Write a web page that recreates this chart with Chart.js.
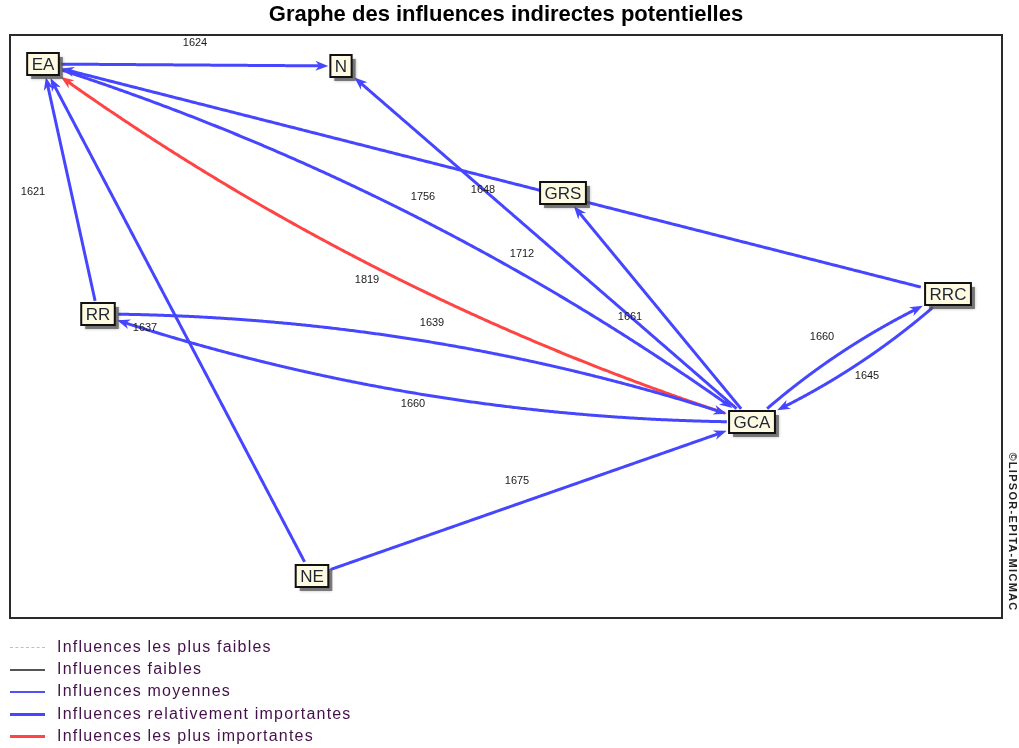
<!DOCTYPE html>
<html><head><meta charset="utf-8">
<script src="https://cdn.jsdelivr.net/npm/chart.js@4/dist/chart.umd.min.js"></script>
<style>
html,body{margin:0;padding:0;background:#fff;}
#wrap{position:relative;width:1019px;height:748px;}
#legend{position:absolute;left:0;top:636px;width:500px;height:112px;font-family:'Liberation Sans',Arial,sans-serif;font-size:16px;color:#44104a;letter-spacing:1.2px;}
.row{position:absolute;left:0;width:500px;height:22px;white-space:nowrap;}
.sw{position:absolute;left:10px;width:35px;}
.tx{position:absolute;left:57px;top:2px;line-height:18px;}
</style></head>
<body><div id="wrap"><canvas id="c" width="1019" height="748"></canvas><div id="legend"></div></div>
<script>
// ---- data ----
const nodeNames = ['EA','N','GRS','RRC','RR','GCA','NE'];
const nodeX = [43, 341, 563, 948, 98, 752, 312];
const nodeY = [64, 66, 193, 294, 314, 422, 576];

const edgeFrom  = ['EA','RR','NE','GCA','EA','RRC','GCA','GCA','RR','GCA','GCA','RRC','NE'];
const edgeTo    = ['N','EA','EA','EA','GCA','EA','N','GRS','GCA','RR','RRC','GCA','GCA'];
const edgeValue = [1624,1621,1637,1819,1756,1648,1712,1661,1639,1660,1660,1645,1675];
const edgeLevel = [4,4,4,5,4,4,4,4,4,4,4,4,4]; // 5 = most important (red), 4 = relatively important
const labelX = [195, 33, 145, 367, 423, 483, 522, 630, 432, 413, 822, 867, 517];
const labelY = [43, 192, 328, 280, 197, 190, 254, 317, 323, 404, 337, 376, 481];

const legendLabels = ['Influences les plus faibles','Influences faibles','Influences moyennes','Influences relativement importantes','Influences les plus importantes'];

const titleText = 'Graphe des influences indirectes potentielles';
const copyrightText = '\u00A9LIPSOR-EPITA-MICMAC';

// ---- styles ----
const levelColor = {1:'#c8c8c8',2:'#555555',3:'#4a4aff',4:'#4646ff',5:'#ff4444'};
const levelWidth = {1:1,2:1,3:1.5,4:3,5:3};
const legendSwatch = [
  {h:0, css:'border-top:1px dashed #c0c0c0; top:11px; height:0;'},
  {h:1, css:'background:#555; top:11px; height:1.5px;'},
  {h:1, css:'background:#5050ff; top:11px; height:1.5px;'},
  {h:3, css:'background:#4646ff; top:10px; height:3px;'},
  {h:3, css:'background:#ff4444; top:10px; height:3px;'}
];
const legendTops = [0, 22, 44, 67, 89];

const legendDiv = document.getElementById('legend');
legendLabels.forEach((t,i)=>{
  const r = document.createElement('div'); r.className='row'; r.style.top = legendTops[i]+'px';
  const s = document.createElement('div'); s.className='sw'; s.style.cssText = legendSwatch[i].css;
  const tx = document.createElement('div'); tx.className='tx'; tx.textContent = t;
  r.appendChild(s); r.appendChild(tx); legendDiv.appendChild(r);
});

const NODE_FONT = '17px "Liberation Sans", Arial, sans-serif';
const LABEL_FONT = '11px "Liberation Sans", Arial, sans-serif';

function boxOf(ctx, i, px, py){
  ctx.font = NODE_FONT;
  const w = ctx.measureText(nodeNames[i]).width + 9;
  const h = 22;
  return {x0:px-w/2, x1:px+w/2, y0:py-h/2, y1:py+h/2, w, h};
}
function inBox(b, x, y, m){ return x>=b.x0-m && x<=b.x1+m && y>=b.y0-m && y<=b.y1+m; }

const graphPlugin = {
  id:'graph',
  beforeDatasetsDraw(chart){
    const ctx = chart.ctx, xs = chart.scales.x, ys = chart.scales.y, ca = chart.chartArea;
    // frame
    ctx.save();
    ctx.strokeStyle = '#2a2a2a'; ctx.lineWidth = 2;
    ctx.strokeRect(ca.left, ca.top, ca.right-ca.left, ca.bottom-ca.top);
    ctx.restore();

    const P = nodeNames.map((n,i)=>({x:xs.getPixelForValue(nodeX[i]), y:ys.getPixelForValue(nodeY[i])}));
    const B = nodeNames.map((n,i)=>boxOf(ctx,i,P[i].x,P[i].y));

    edgeFrom.forEach((f,k)=>{
      const a = nodeNames.indexOf(f), b = nodeNames.indexOf(edgeTo[k]);
      const p0 = P[a], p2 = P[b];
      const dx = p2.x-p0.x, dy = p2.y-p0.y, len = Math.hypot(dx,dy);
      let paired = false;
      edgeFrom.forEach((g,j)=>{ if (g===edgeTo[k] && edgeTo[j]===f) paired = true; });
      const bend = paired ? -0.08*len : 0;
      const c = {x:(p0.x+p2.x)/2 + (-dy/len)*bend, y:(p0.y+p2.y)/2 + (dx/len)*bend};
      const N = 400, pts = [];
      for (let i=0;i<=N;i++){
        const t=i/N, u=1-t;
        pts.push({x:u*u*p0.x+2*u*t*c.x+t*t*p2.x, y:u*u*p0.y+2*u*t*c.y+t*t*p2.y});
      }
      let i0 = 0; while (i0<N && inBox(B[a],pts[i0].x,pts[i0].y,2)) i0++;
      let i1 = N; while (i1>0 && inBox(B[b],pts[i1].x,pts[i1].y,2)) i1--;
      const col = levelColor[edgeLevel[k]], lw = levelWidth[edgeLevel[k]];
      const tip = pts[i1];
      let j = i1; while (j>i0 && Math.hypot(tip.x-pts[j].x, tip.y-pts[j].y) < 12) j--;
      const ux = (tip.x-pts[j].x), uy = (tip.y-pts[j].y), ul = Math.hypot(ux,uy)||1;
      const ex = ux/ul, ey = uy/ul;
      const AL = 13, AW = 5;
      ctx.save();
      ctx.strokeStyle = col; ctx.lineWidth = lw; ctx.lineJoin='round';
      ctx.beginPath();
      ctx.moveTo(pts[i0].x, pts[i0].y);
      for (let i=i0+1;i<=j;i++) ctx.lineTo(pts[i].x, pts[i].y);
      ctx.lineTo(tip.x-ex*AL*0.6, tip.y-ey*AL*0.6);
      ctx.stroke();
      ctx.fillStyle = col;
      ctx.beginPath();
      ctx.moveTo(tip.x, tip.y);
      ctx.lineTo(tip.x-ex*AL - ey*AW, tip.y-ey*AL + ex*AW);
      ctx.lineTo(tip.x-ex*AL*0.7, tip.y-ey*AL*0.7);
      ctx.lineTo(tip.x-ex*AL + ey*AW, tip.y-ey*AL - ex*AW);
      ctx.closePath(); ctx.fill();
      ctx.restore();
    });

    // edge labels
    ctx.save();
    ctx.font = LABEL_FONT; ctx.fillStyle = '#1a1a1a'; ctx.textAlign='center'; ctx.textBaseline='middle';
    edgeValue.forEach((v,k)=>{
      ctx.fillText(String(v), xs.getPixelForValue(labelX[k]), ys.getPixelForValue(labelY[k]));
    });
    ctx.restore();
  },
  afterDatasetsDraw(chart){
    const ctx = chart.ctx, xs = chart.scales.x, ys = chart.scales.y;
    nodeNames.forEach((n,i)=>{
      const px = xs.getPixelForValue(nodeX[i]), py = ys.getPixelForValue(nodeY[i]);
      const b = boxOf(ctx,i,px,py);
      ctx.save();
      ctx.fillStyle = 'rgba(90,90,90,0.75)';
      ctx.shadowColor = 'rgba(0,0,0,0.35)'; ctx.shadowBlur = 3;
      ctx.fillRect(b.x0+4, b.y0+4, b.w, b.h);
      ctx.restore();
      ctx.save();
      ctx.fillStyle = '#fffbe2';
      ctx.fillRect(b.x0, b.y0, b.w, b.h);
      ctx.strokeStyle = '#111'; ctx.lineWidth = 2;
      ctx.strokeRect(b.x0, b.y0, b.w, b.h);
      ctx.font = NODE_FONT; ctx.fillStyle = '#1e2634'; ctx.textAlign='center'; ctx.textBaseline='middle';
      ctx.fillText(n, px, py+1);
      ctx.restore();
    });
    // copyright
    ctx.save();
    ctx.translate(1012, 532);
    ctx.rotate(Math.PI/2);
    ctx.font = 'bold 11px "Liberation Sans", Arial, sans-serif';
    try { ctx.letterSpacing = '1.3px'; } catch(e){}
    ctx.fillStyle = '#222'; ctx.textAlign='center'; ctx.textBaseline='middle';
    ctx.fillText(copyrightText, 0, 0);
    ctx.restore();
  }
};

new Chart(document.getElementById('c'), {
  type:'scatter',
  data:{ datasets:[{ label:'Variables', data: nodeNames.map((n,i)=>({x:nodeX[i], y:nodeY[i]})), pointRadius:0, pointHoverRadius:0 }] },
  options:{
    responsive:false, animation:false,
    layout:{ padding:{ left:10, right:17, top:0, bottom:130 } },
    scales:{
      x:{ type:'linear', min:10, max:1002, display:false },
      y:{ type:'linear', min:35, max:618, reverse:true, display:false }
    },
    plugins:{
      legend:{ display:false },
      tooltip:{ enabled:false },
      title:{ display:true, text:titleText, color:'#000',
        font:{ family:'"Liberation Sans", Arial, sans-serif', size:22, weight:'bold' },
        padding:{ top:2, bottom:6.6 } }
    }
  },
  plugins:[graphPlugin]
});
</script>
</body></html>
